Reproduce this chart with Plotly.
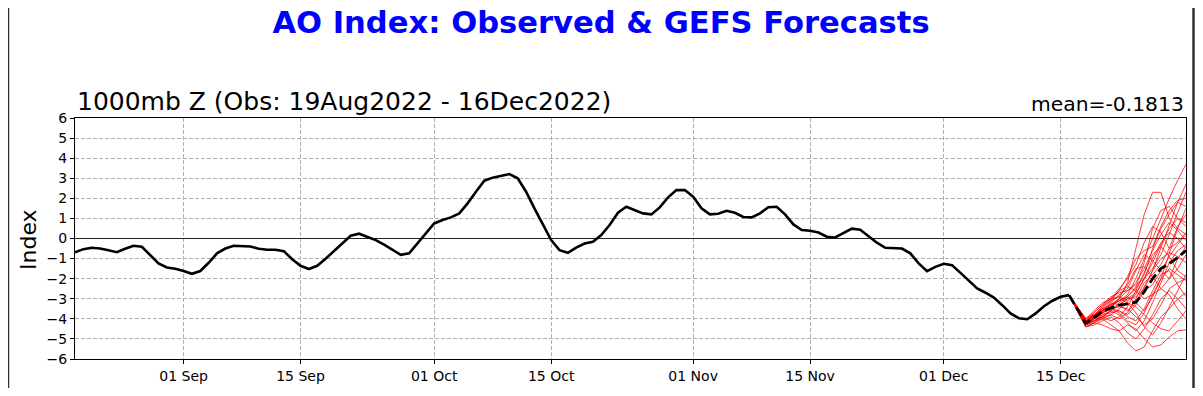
import pandas as pd
import plotly.graph_objects as go

# ---------------- data ----------------
obs_start = "2022-08-19"
obs_values = [
    -0.69, -0.53, -0.46, -0.50, -0.59, -0.68, -0.51, -0.36, -0.41, -0.83,
    -1.24, -1.44, -1.51, -1.62, -1.76, -1.62, -1.21, -0.74, -0.50, -0.36,
    -0.38, -0.40, -0.51, -0.56, -0.56, -0.63, -1.03, -1.36, -1.52, -1.36,
    -1.01, -0.63, -0.25, 0.14, 0.24, 0.07, -0.08, -0.30, -0.54, -0.81,
    -0.74, -0.25, 0.29, 0.75, 0.92, 1.05, 1.25, 1.75, 2.33, 2.88,
    3.03, 3.11, 3.21, 3.00, 2.33, 1.50, 0.67, -0.08, -0.58, -0.71,
    -0.45, -0.25, -0.16, 0.17, 0.67, 1.28, 1.58, 1.42, 1.25, 1.20,
    1.55, 2.05, 2.41, 2.41, 2.08, 1.50, 1.20, 1.23, 1.38, 1.28,
    1.07, 1.05, 1.25, 1.56, 1.58, 1.20, 0.70, 0.42, 0.39, 0.30,
    0.09, 0.05, 0.29, 0.49, 0.44, 0.12, -0.21, -0.46, -0.48, -0.50,
    -0.74, -1.24, -1.63, -1.41, -1.26, -1.33, -1.71, -2.12, -2.49, -2.70,
    -2.94, -3.32, -3.73, -3.97, -4.02, -3.73, -3.37, -3.10, -2.90, -2.82,
]

fc_init_date = "2022-12-16"
fc_first_date = "2022-12-18"
fc_last_date = "2022-12-30"

fc_mean = [-4.22, -3.92, -3.65, -3.45, -3.32, -3.25, -3.17, -2.65, -2.00, -1.50, -1.25, -0.95, -0.60]

members = [
    [-4.3, -4.0, -3.7, -3.4, -3.0, -2.2, -0.5, 1.2, 2.3, 2.3, 1.0, 0.5, 0.2],
    [-4.2, -3.9, -3.6, -3.3, -3.1, -2.8, -2.0, -1.0, 0.0, 1.0, 2.0, 2.9, 3.7],
    [-4.1, -3.8, -3.5, -3.6, -3.2, -2.9, -2.5, -1.8, -0.5, 0.5, 1.2, 1.8, 1.6],
    [-4.3, -4.1, -4.0, -4.3, -4.6, -5.2, -5.6, -5.4, -4.6, -3.9, -3.5, -3.0, -2.7],
    [-4.0, -3.6, -3.2, -3.0, -2.6, -2.4, -2.6, -3.0, -2.8, -2.0, -0.8, 0.5, 1.5],
    [-4.4, -4.2, -4.3, -4.5, -4.6, -4.3, -4.5, -5.0, -5.4, -5.3, -4.9, -4.6, -4.55],
    [-4.2, -3.9, -3.4, -3.0, -2.5, -2.0, -1.3, -0.2, 0.6, 0.3, -0.5, -0.2, 0.3],
    [-4.1, -3.9, -3.7, -3.5, -3.4, -3.5, -3.9, -4.3, -4.0, -3.3, -2.5, -2.2, -2.0],
    [-4.3, -4.0, -3.6, -3.2, -3.3, -3.6, -3.2, -2.4, -1.6, -1.0, -0.7, -0.9, -1.2],
    [-4.2, -4.0, -3.8, -3.6, -3.8, -4.2, -4.6, -4.1, -3.2, -2.2, -1.2, -0.6, -0.3],
    [-4.0, -3.7, -3.3, -2.9, -2.7, -2.6, -2.2, -1.5, -0.6, 0.2, 0.8, 0.4, -0.1],
    [-4.3, -4.2, -4.0, -3.8, -3.5, -3.2, -3.4, -3.8, -4.2, -4.5, -4.6, -4.1, -3.6],
    [-4.1, -3.8, -3.6, -3.2, -2.8, -2.5, -1.6, -0.8, -1.1, -1.6, -2.0, -1.5, -0.8],
    [-4.2, -4.0, -3.7, -3.4, -3.0, -2.6, -2.3, -2.0, -1.2, -0.3, 0.5, 1.0, 0.8],
    [-4.4, -4.3, -4.1, -3.9, -4.2, -4.7, -5.0, -4.5, -3.8, -3.0, -2.6, -3.0, -3.5],
    [-4.2, -3.9, -3.5, -3.3, -3.1, -2.9, -2.4, -1.2, 0.5, 1.4, 1.6, 1.0, 0.6],
    [-4.3, -4.1, -3.8, -3.7, -3.6, -3.8, -3.3, -2.6, -2.3, -1.6, -0.9, -0.3, 0.2],
    [-4.1, -3.8, -3.6, -3.4, -3.1, -2.9, -3.2, -3.6, -2.9, -2.0, -1.5, -1.8, -2.1],
    [-4.2, -4.1, -3.9, -3.6, -3.3, -3.0, -2.7, -2.0, -1.5, -0.8, 0.2, 1.3, 2.3],
    [-4.3, -4.0, -3.7, -3.5, -3.7, -4.1, -4.3, -3.7, -2.8, -2.5, -2.8, -3.5, -4.0],
    [-4.1, -3.7, -3.3, -3.0, -2.9, -3.1, -2.8, -2.0, -1.0, -0.2, 0.3, 0.0, -0.5],
    [-4.3, -4.1, -3.9, -3.8, -4.0, -3.7, -3.0, -2.2, -1.8, -1.3, -0.5, 0.6, 1.2],
    [-4.2, -3.8, -3.4, -3.1, -2.9, -2.3, -1.5, -1.4, -1.9, -2.5, -2.0, -1.0, -0.4],
    [-4.0, -3.8, -3.6, -3.3, -3.0, -3.2, -3.7, -4.4, -4.8, -4.2, -3.4, -2.6, -1.8],
    [-4.4, -4.2, -3.9, -3.6, -3.3, -3.0, -2.9, -2.5, -1.6, -0.5, 0.6, 1.8, 2.7],
    [-4.2, -4.0, -3.9, -4.1, -3.9, -3.4, -2.6, -1.7, -0.8, -0.4, -0.9, -1.6, -1.9],
    [-4.1, -3.9, -3.5, -3.1, -2.6, -1.9, -1.0, -0.6, -0.4, 0.6, 1.4, 1.9, 2.0],
    [-4.3, -4.0, -3.6, -3.5, -3.6, -3.9, -4.1, -3.5, -2.6, -1.8, -1.6, -2.3, -2.9],
]

x_tick_dates = ["2022-09-01", "2022-09-15", "2022-10-01", "2022-10-15",
                "2022-11-01", "2022-11-15", "2022-12-01", "2022-12-15"]
x_tick_labels = ["01 Sep", "15 Sep", "01 Oct", "15 Oct", "01 Nov", "15 Nov", "01 Dec", "15 Dec"]
y_tick_vals = list(range(-6, 7))
y_tick_labels = [("\u2212" + str(-v)) if v < 0 else str(v) for v in y_tick_vals]

title_text = "AO Index: Observed & GEFS Forecasts"
subtitle_text = "1000mb Z (Obs: 19Aug2022 - 16Dec2022)"
mean_text = "mean=-0.1813"

# ---------------- figure ----------------
obs_dates = pd.date_range(obs_start, periods=len(obs_values), freq="D")
fc_dates = [pd.Timestamp(fc_init_date)] + list(pd.date_range(fc_first_date, fc_last_date, freq="D"))
last_obs = obs_values[-1]

OFF = 8  # page body margin in the browser
W, H = 1203 - 2 * OFF, 396 - 2 * OFF
ML, MT = 75 - OFF, 118 - OFF
MR = (OFF + W) - 1186
MB = (OFF + H) - 359
PW, PH = W - ML - MR, H - MT - MB

fig = go.Figure()
for m in members:
    fig.add_trace(go.Scatter(x=fc_dates, y=[last_obs] + m, mode="lines",
                             line=dict(color="rgba(255,0,0,0.85)", width=0.9),
                             hoverinfo="skip", showlegend=False))
fig.add_trace(go.Scatter(x=obs_dates, y=obs_values, mode="lines",
                         line=dict(color="black", width=2.6), showlegend=False))
fig.add_trace(go.Scatter(x=fc_dates, y=[last_obs] + fc_mean, mode="lines",
                         line=dict(color="black", width=2.8, dash="10px,4px"), showlegend=False))

font = "DejaVu Sans, Liberation Sans, sans-serif"
fig.update_layout(
    width=W, height=H,
    margin=dict(l=ML, r=MR, t=MT, b=MB, pad=0, autoexpand=False),
    paper_bgcolor="white", plot_bgcolor="white",
    font=dict(family=font, color="black", size=14),
    title=dict(text="<b>" + title_text + "</b>", x=(601 - OFF) / W, xref="container", xanchor="center",
               y=1 - (22 - OFF) / H, yref="container", yanchor="middle",
               font=dict(family="DejaVu Sans, sans-serif", size=30.6, color="#0000ff")),
    showlegend=False,
)
fig.update_xaxes(
    range=["2022-08-19", "2022-12-30"], automargin=False,
    tickvals=x_tick_dates, ticktext=x_tick_labels,
    ticks="outside", ticklen=4, tickcolor="black", tickwidth=1,
    showline=True, mirror=True, linecolor="black", linewidth=1,
    showgrid=True, gridcolor="#b0b0b0", gridwidth=1, griddash="4px,2px",
    zeroline=False, tickfont=dict(size=14),
)
fig.update_yaxes(
    range=[-6, 6], automargin=False,
    tickvals=y_tick_vals, ticktext=y_tick_labels,
    ticks="outside", ticklen=4, tickcolor="black", tickwidth=1,
    showline=True, mirror=True, linecolor="black", linewidth=1,
    showgrid=True, gridcolor="#b0b0b0", gridwidth=1, griddash="4px,2px",
    zeroline=True, zerolinecolor="#222222", zerolinewidth=1,
    tickfont=dict(size=14),
)

fig.add_annotation(text=subtitle_text, xref="paper", yref="paper", x=0, y=1,
                   xanchor="left", yanchor="bottom", yshift=0, showarrow=False,
                   font=dict(size=25, family=font, color="black"))
fig.add_annotation(text=mean_text, xref="paper", yref="paper", x=1, y=1,
                   xanchor="right", yanchor="bottom", yshift=0, showarrow=False,
                   font=dict(size=20.3, family=font, color="black"))
fig.add_annotation(text="Index", xref="paper", yref="paper",
                   x=(28 - 75) / PW, y=(359 - 240) / PH, xanchor="center", yanchor="middle",
                   textangle=-90, showarrow=False, font=dict(size=22, family=font, color="black"))

# figure frame edges
fig.add_shape(type="line", xref="paper", yref="paper",
              x0=(0.5 - ML) / PW, x1=(0.5 - ML) / PW, y0=-MB / PH, y1=(H - MB) / PH,
              line=dict(color="#333333", width=1.5))
fig.add_shape(type="line", xref="paper", yref="paper",
              x0=(W - 1.5 - ML) / PW, x1=(W - 1.5 - ML) / PW, y0=-MB / PH, y1=(H - MB) / PH,
              line=dict(color="#333333", width=2.5))

fig.write_html("out.html")
